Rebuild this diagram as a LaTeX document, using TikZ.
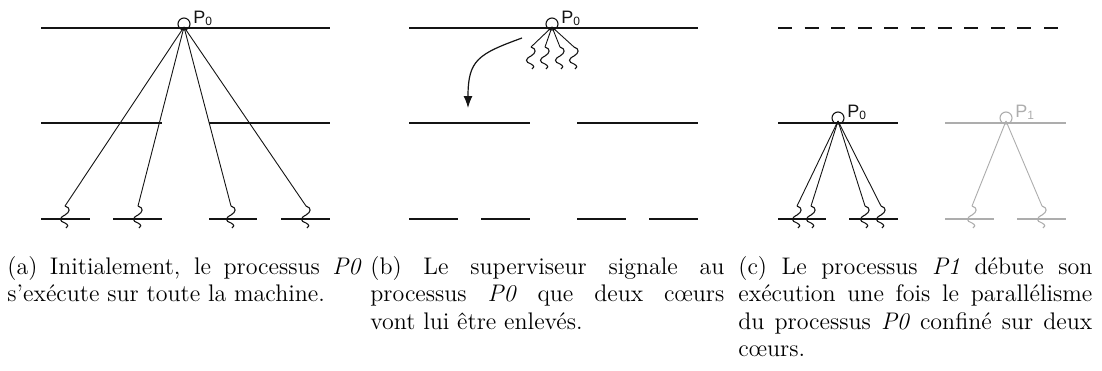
\documentclass[tikz,border=0pt]{standalone}
\usepackage{fontspec}
\usepackage{tikz}
\usetikzlibrary{arrows.meta}
\newfontfamily\labelfont{Liberation Sans}
\definecolor{color_core}{rgb}{0.08,0.08,0.08}
\definecolor{color_p1}{rgb}{0.68,0.68,0.68}

\tikzset{
  coreline/.style={line width=0.65pt},
  thread/.style={line width=0.45pt},
  proc/.style={circle, draw, line width=0.55pt, minimum size=6pt, inner sep=0pt},
  plabel/.style={anchor=base west, inner sep=0pt, font=\labelfont\fontsize{9}{11}\selectfont},
  squig/.pic={\draw[line width=0.55pt] (0,0) .. controls (6,2) and (5,6) .. (0,9)
      .. controls (-6,12) and (-6,15) .. (0,17) .. controls (4,19) and (3,21) .. (1,22);},
  legende/.style={anchor=north west, inner sep=0pt, text width=177pt, align=justify,
      font=\fontsize{12}{13.75}\selectfont}
}

\begin{document}
\begin{tikzpicture}[x=0.5pt, y=-0.5pt, color=color_core]
	\useasboundingbox (0,0) rectangle (1102,370);
	\tolerance=10000
	
	% (a) P0 sur toute la machine
	\draw[coreline] (41,28) -- (330,28);
	\draw[coreline] (41,123) -- (162,123) (209,123) -- (330,123);
	\draw[coreline] (41,219) -- (90,219) (113,219) -- (162,219)
		(209,219) -- (257,219) (281,219) -- (330,219);
	\node[proc] (p0a) at (184,24) {};
	\node[plabel] (l0a) at (193,23) {P\textsubscript{0}};
	\coordinate (o0a) at (184,27);
	\foreach \i/\x in {1/65, 2/138, 3/231, 4/306} {
		\coordinate (a\i) at (\x,206);
		\draw[thread] (o0a) -- (a\i);
		\path (a\i) pic {squig};
	}
	
	% (b) signal du superviseur
	\draw[coreline] (409,28) -- (698,28);
	\draw[coreline] (409,123) -- (530,123) (577,123) -- (698,123);
	\draw[coreline] (409,219) -- (458,219) (481,219) -- (530,219)
		(577,219) -- (626,219) (649,219) -- (698,219);
	\node[proc] (p0b) at (552,24) {};
	\node[plabel] (l0b) at (561,23) {P\textsubscript{0}};
	\coordinate (o0b) at (552,27);
	\foreach \i/\x in {1/531, 2/545, 3/560, 4/574} {
		\coordinate (b\i) at (\x,47);
		\draw[thread] (o0b) -- (b\i);
		\path (b\i) pic {squig};
	}
	\coordinate (sa) at (522,38);
	\coordinate (sb) at (468,108);
	\draw[line width=0.6pt, -{Latex[length=6pt,width=4.5pt]}] (sa) .. controls (478,54) and (468,60) .. (sb);
	
	% (c) P0 confine, P1 demarre
	\draw[coreline, dash pattern=on 7pt off 6.3pt] (778,28) -- (1058,28);
	\draw[coreline] (778,123) -- (898,123);
	\draw[coreline] (778,219) -- (826,219) (849,219) -- (898,219);
	\node[proc] (p0c) at (838,118) {};
	\node[plabel] (l0c) at (847,117) {P\textsubscript{0}};
	\coordinate (o0c) at (838,121);
	\foreach \i/\x in {1/797, 2/811, 3/865, 4/881} {
		\coordinate (c\i) at (\x,206);
		\draw[thread] (o0c) -- (c\i);
		\path (c\i) pic {squig};
	}
	\begin{scope}[color=color_p1]
		\draw[coreline] (945,123) -- (1066,123);
		\draw[coreline] (945,219) -- (994,219) (1017,219) -- (1066,219);
		\node[proc] (p1c) at (1006,118) {};
		\node[plabel, color_p1] (l1c) at (1015,117) {P\textsubscript{1}};
		\coordinate (o1c) at (1006,121);
		\foreach \i/\x in {5/972, 6/1042} {
			\coordinate (c\i) at (\x,206);
			\draw[thread] (o1c) -- (c\i);
			\path (c\i) pic {squig};
		}
	\end{scope}
	
	% Legendes
	\node[legende, black] (capa) at (7,256)
	{(a) Initialement, le processus \emph{P0}\linebreak s’exécute sur toute la machine.};
	\node[legende, black] (capb) at (370,256)
	{(b) Le superviseur signale au\linebreak processus \emph{P0} que deux cœurs\linebreak vont lui être enlevés.};
	\node[legende, black] (capc) at (738,256)
	{(c) Le processus \emph{P1} débute son\linebreak exécution une fois le parallélisme\linebreak du processus \emph{P0} confiné sur deux\linebreak cœurs.};
\end{tikzpicture}
\end{document}
